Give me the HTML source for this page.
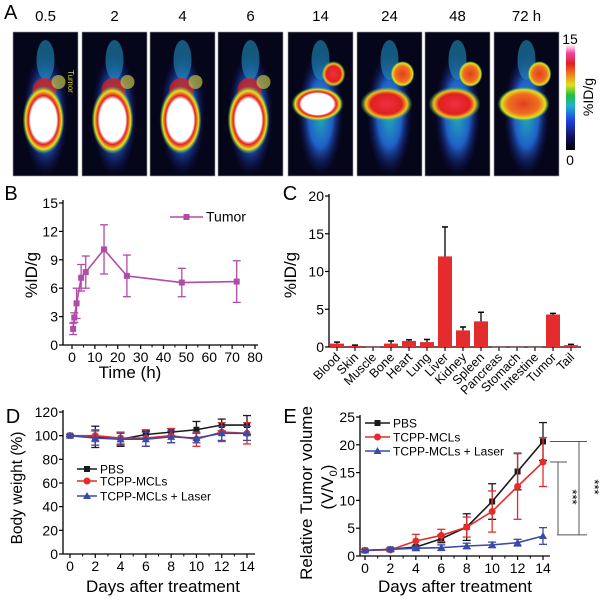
<!DOCTYPE html>
<html><head><meta charset="utf-8"><style>
html,body{margin:0;padding:0;background:#fff;}
svg{display:block;font-family:"Liberation Sans",Arial,sans-serif;}
</style></head><body>
<svg id="fig" width="600" height="600" viewBox="0 0 600 600">
<defs>
<linearGradient id="cbar" x1="0" y1="1" x2="0" y2="0">
<stop offset="0" stop-color="#000"/><stop offset="0.12" stop-color="#10105a"/><stop offset="0.28" stop-color="#2040e0"/><stop offset="0.42" stop-color="#20b0d0"/><stop offset="0.52" stop-color="#20c040"/><stop offset="0.62" stop-color="#e0e020"/><stop offset="0.72" stop-color="#f08020"/><stop offset="0.82" stop-color="#e02020"/><stop offset="0.92" stop-color="#f040a0"/><stop offset="1" stop-color="#fff0f0"/>
</linearGradient>
<radialGradient id="bodyG" cx="0.5" cy="0.5" r="0.5"><stop offset="0" stop-color="#20b0b0"/><stop offset="0.55" stop-color="#2060c8"/><stop offset="1" stop-color="#101060" stop-opacity="0.1"/></radialGradient>
<radialGradient id="hotG" cx="0.5" cy="0.5" r="0.5"><stop offset="0" stop-color="#fff"/><stop offset="0.62" stop-color="#fff"/><stop offset="0.72" stop-color="#e02020"/><stop offset="0.86" stop-color="#f0e020"/><stop offset="1" stop-color="#30c060" stop-opacity="0"/></radialGradient>
<radialGradient id="redG" cx="0.5" cy="0.5" r="0.5"><stop offset="0" stop-color="#f03040"/><stop offset="0.6" stop-color="#e02020"/><stop offset="0.8" stop-color="#f0c020"/><stop offset="1" stop-color="#30c060" stop-opacity="0"/></radialGradient>
<radialGradient id="orG" cx="0.5" cy="0.5" r="0.5"><stop offset="0" stop-color="#e04020"/><stop offset="0.6" stop-color="#f07020"/><stop offset="0.85" stop-color="#e0e020"/><stop offset="1" stop-color="#30c060" stop-opacity="0"/></radialGradient>
</defs>
<g id="panelA"></g>
<g id="panelB"></g>
<g id="panelC"></g>
<g id="panelD"></g>
<g id="panelE"></g>
</svg>
<script>
// ---- data ----
const imgTimes = ["0.5","2","4","6","14","24","48","72 h"];
const bTimes = [0.5,1,2,4,6,14,24,48,72];
const bValues = [1.7,2.9,4.4,7.1,7.7,10.1,7.3,6.6,6.7];
const bErrors = [0.6,0.5,1.6,1.4,1.7,2.6,2.2,1.5,2.2];
const bYTicks = [0,3,6,9,12,15];
const bXTicks = [0,10,20,30,40,50,60,70,80];
const cOrgans = ["Blood","Skin","Muscle","Bone","Heart","Lung","Liver","Kidney","Spleen","Pancreas","Stomach","Intestine","Tumor","Tail"];
const cValues = [0.45,0.15,0.02,0.45,0.8,0.65,12,2.2,3.4,0.02,0.02,0.02,4.3,0.25];
const cErrors = [0.2,0.1,0,0.35,0.15,0.35,3.9,0.45,1.2,0,0,0,0.15,0.1];
const cYTicks = [0,5,10,15,20];
const days = [0,2,4,6,8,10,12,14];
const dPBS = [100,99,97,101,103,105,109,109];
const dPBSErr = [1,9,6,3,3,7,5,8];
const dTCPP = [100,100,98,98,100,97,103,102];
const dTCPPErr = [1,5,5,7,6,6,8,9];
const dLaser = [100,98,97,97,99,98,102,102];
const dLaserErr = [1,6,5,6,5,4,6,6];
const dYTicks = [0,20,40,60,80,100,120];
const ePBS = [1,1.2,1.6,3.1,5.2,9.8,15.2,20.6];
const ePBSErr = [0.2,0.3,0.3,0.7,2.4,3.2,3.3,3.4];
const eTCPP = [1,1.1,2.7,3.7,5.2,8.0,12.5,16.9];
const eTCPPErr = [0.2,0.2,1.2,1.1,1.8,3.7,5.9,4.4];
const eLaser = [1,1.2,1.4,1.5,1.8,2.0,2.4,3.6];
const eLaserErr = [0.2,0.3,0.4,0.5,0.5,0.5,0.6,1.5];
const eYTicks = [0,5,10,15,20,25];

const NS="http://www.w3.org/2000/svg";
function mk(parent,tag,attrs,text){const e=document.createElementNS(NS,tag);for(const k in attrs)e.setAttribute(k,attrs[k]);if(text!==undefined)e.textContent=text;parent.appendChild(e);return e;}
function lin(d0,d1,r0,r1){return v=>r0+(v-d0)*(r1-r0)/(d1-d0);}

// ---- Panel A ----
const A=document.getElementById('panelA');
let t=mk(A,'text',{x:4,y:19,'font-size':20});t.textContent='A';


const imgX=[13,82,150,218,288,357,425,494];
imgTimes.forEach((lab,i)=>{
  const x=imgX[i],w=65,y=32,h=144,cx=x+w/2;
  const g=mk(A,'g',{});
  
  
  mk(g,'rect',{x:x,y:y,width:w,height:h,fill:'#06061a',stroke:'#999','stroke-width':0.6});
  mk(g,'ellipse',{cx:cx,cy:y+82,rx:22,ry:60,fill:'url(#bodyG)'});
  mk(g,'ellipse',{cx:cx,cy:y+28,rx:9,ry:20,fill:'#2090c0',opacity:0.6});
  if(i<4){
    mk(g,'ellipse',{cx:cx-1,cy:y+58,rx:12,ry:12,fill:'#d02020',opacity:0.8});
    mk(g,'ellipse',{cx:cx-2,cy:y+88,rx:21,ry:34,fill:'url(#hotG)'});
    mk(g,'ellipse',{cx:cx+13,cy:y+50,rx:7,ry:7,fill:'#c0c040',opacity:0.7});
  } else {
    const fillL = i==4?'url(#hotG)':(i<7?'url(#redG)':'url(#orG)');
    mk(g,'ellipse',{cx:cx-3,cy:y+72,rx:26,ry:17,fill:fillL});
    mk(g,'ellipse',{cx:cx+13,cy:y+42,rx:12,ry:13,fill:i==4?'url(#redG)':'url(#orG)'});
  }
  let tt=mk(A,'text',{x:cx,y:21,'font-size':15,'text-anchor':'middle'});tt.textContent=lab;
  
  
});
let ol=mk(A,'text',{x:68,y:70,'font-size':8,fill:'#d0d020',transform:'rotate(90 68 70)'});ol.textContent='Tumor';


let cb=mk(A,'rect',{x:566,y:45,width:9,height:105,fill:'url(#cbar)'});


t=mk(A,'text',{x:570,y:44,'font-size':14,'text-anchor':'middle'});t.textContent='15';


t=mk(A,'text',{x:570,y:165,'font-size':14,'text-anchor':'middle'});t.textContent='0';


t=mk(A,'text',{x:593,y:97,'font-size':14,'text-anchor':'middle',transform:'rotate(-90 593 97)'});t.textContent='%ID/g';



// ---- helpers for axes ----
function yAxis(g,x,sy,ticks,y0,y1,fs){
  mk(g,'line',{x1:x,y1:y0,x2:x,y2:y1,stroke:'#000','stroke-width':1.3});
  ticks.forEach(v=>{const y=sy(v);mk(g,'line',{x1:x-4,y1:y,x2:x,y2:y,stroke:'#000','stroke-width':1.2});
    const tl=mk(g,'text',{x:x-5,y:y+5,'font-size':fs,'text-anchor':'end'},String(v));
    
    });
}
function xAxis(g,y,sx,ticks,x0,x1,fs,minor){
  mk(g,'line',{x1:x0,y1:y,x2:x1,y2:y,stroke:'#000','stroke-width':1.3});
  ticks.forEach((v,i)=>{const x=sx(v);mk(g,'line',{x1:x,y1:y,x2:x,y2:y+4,stroke:'#000','stroke-width':1.2});
    if(minor&&i<ticks.length-1){const xm=(x+sx(ticks[i+1]))/2;mk(g,'line',{x1:xm,y1:y,x2:xm,y2:y+2.5,stroke:'#000','stroke-width':1});}
    const tl=mk(g,'text',{x:x,y:y+17,'font-size':fs,'text-anchor':'middle'},String(v));
    
    });
}
function marker(g,type,x,y,c,s){
  if(type==='sq')return mk(g,'rect',{x:x-s,y:y-s,width:2*s,height:2*s,fill:c});
  if(type==='ci')return mk(g,'circle',{cx:x,cy:y,r:s+0.5,fill:c});
  return mk(g,'polygon',{points:`${x},${y-s-1} ${x-s-1},${y+s} ${x+s+1},${y+s}`,fill:c});
}
function series(g,name,xs,ys,es,sx,sy,c,type,s){
  const sg=mk(g,'g',{});
  
  
  mk(sg,'polyline',{points:xs.map((x,i)=>sx(x)+','+sy(ys[i])).join(' '),fill:'none',stroke:c,'stroke-width':1.6});
  xs.forEach((x,i)=>{const px=sx(x),yt=sy(ys[i]+es[i]),yb=sy(ys[i]-es[i]);
    mk(sg,'line',{x1:px,y1:yt,x2:px,y2:yb,stroke:c,'stroke-width':1.3});
    mk(sg,'line',{x1:px-4,y1:yt,x2:px+4,y2:yt,stroke:c,'stroke-width':1.3});
    mk(sg,'line',{x1:px-4,y1:yb,x2:px+4,y2:yb,stroke:c,'stroke-width':1.3});
    const m=marker(sg,type,px,sy(ys[i]),c,s);
    
    });
}
function legendEntry(g,x1,x2,y,c,type,label,fs){
  const lg=mk(g,'g',{});
  
  
  mk(lg,'line',{x1:x1,y1:y,x2:x2,y2:y,stroke:c,'stroke-width':1.6});
  marker(lg,type,(x1+x2)/2,y,c,3);
  mk(lg,'text',{x:x2+3,y:y+4.5,'font-size':fs},label);
}
function label(g,txt,x,y,fs,rot,name){
  const e=mk(g,'text',{x:x,y:y,'font-size':fs,'text-anchor':'middle'},txt);
  if(rot)e.setAttribute('transform',`rotate(-90 ${x} ${y})`);
  
  
  return e;
}

// ---- Panel B ----
const B=document.getElementById('panelB');
label(B,'B',11,200,20,false,'panel-label-b');
{const sx=lin(0,80,72,255),sy=lin(0,15,345,203);
 yAxis(B,63,sy,bYTicks,345,200,14);
 xAxis(B,345,sx,bXTicks,63,258,14,true);
 series(B,'tumor-series',bTimes,bValues,bErrors,sx,sy,'#b04ca8','sq',3);
 legendEntry(B,170,203,217,'#b04ca8','sq','Tumor',14);
 label(B,'Time (h)',130,378,17,false,'x-axis-title');
 label(B,'%ID/g',37,275,17,true,'y-axis-title');}

// ---- Panel C ----
const C=document.getElementById('panelC');
label(C,'C',290,200,20,false,'panel-label-c');
{const sy=lin(0,20,347,196),x0=337,dx=18;
 yAxis(C,329,sy,cYTicks,347,194,14);
 mk(C,'line',{x1:329,y1:347,x2:581,y2:347,stroke:'#000','stroke-width':1.3});
 cOrgans.forEach((o,i)=>{const cx=x0+i*dx;
  mk(C,'line',{x1:cx,y1:347,x2:cx,y2:351,stroke:'#000','stroke-width':1.1});
  const b=mk(C,'rect',{x:cx-7,y:sy(cValues[i]),width:14,height:Math.max(0.5,347-sy(cValues[i])),fill:'#e52c2c'});
  
  
  if(cErrors[i]>0){const yt=sy(cValues[i]+cErrors[i]);
   mk(C,'line',{x1:cx,y1:sy(cValues[i]),x2:cx,y2:yt,stroke:'#000','stroke-width':1.3});
   mk(C,'line',{x1:cx-3,y1:yt,x2:cx+3,y2:yt,stroke:'#000','stroke-width':1.5});}
  const tl=mk(C,'text',{x:cx+4,y:358,'font-size':12.5,'text-anchor':'end',transform:`rotate(-45 ${cx+4} 358)`},o);
  
  });
 label(C,'%ID/g',296,275,17,true,'y-axis-title');}

// ---- Panel D ----
const D=document.getElementById('panelD');
label(D,'D',13,423,20,false,'panel-label-d');
{const sx=lin(0,14,70,247),sy=lin(0,120,554,412);
 yAxis(D,63,sy,dYTicks,554,410,14);
 xAxis(D,554,sx,days,63,255,14,true);
 series(D,'pbs-series',days,dPBS,dPBSErr,sx,sy,'#1a1a1a','sq',3);
 series(D,'tcpp-series',days,dTCPP,dTCPPErr,sx,sy,'#e52c2c','ci',3);
 series(D,'laser-series',days,dLaser,dLaserErr,sx,sy,'#3a4aa8','tr',3);
 legendEntry(D,77,97,469,'#1a1a1a','sq','PBS',12);
 legendEntry(D,77,97,481,'#e52c2c','ci','TCPP-MCLs',12);
 legendEntry(D,77,97,496,'#3a4aa8','tr','TCPP-MCLs + Laser',12);
 label(D,'Days after treatment',163,592,17,false,'x-axis-title');
 label(D,'Body weight (%)',22,488,15.5,true,'y-axis-title');}

// ---- Panel E ----
const E=document.getElementById('panelE');
label(E,'E',290,423,20,false,'panel-label-e');
{const sx=lin(0,14,365,543),sy=lin(0,25,556,417);
 yAxis(E,360,sy,eYTicks,556,415,14);
 xAxis(E,556,sx,days,360,550,14,true);
 series(E,'pbs-series',days,ePBS,ePBSErr,sx,sy,'#1a1a1a','sq',3);
 series(E,'tcpp-series',days,eTCPP,eTCPPErr,sx,sy,'#e52c2c','ci',3);
 series(E,'laser-series',days,eLaser,eLaserErr,sx,sy,'#3a4aa8','tr',3);
 legendEntry(E,365,390,423,'#1a1a1a','sq','PBS',12);
 legendEntry(E,365,390,437,'#e52c2c','ci','TCPP-MCLs',12);
 legendEntry(E,365,390,451,'#3a4aa8','tr','TCPP-MCLs + Laser',12);
 const yP=sy(ePBS[7]),yT=sy(eTCPP[7]),yL=sy(eLaser[7]+0.2);
 const br=mk(E,'g',{stroke:'#555','stroke-width':1});
 
 
 mk(br,'line',{x1:550,y1:yP,x2:587,y2:yP});
 mk(br,'line',{x1:579,y1:yP,x2:579,y2:yL});
 mk(br,'line',{x1:557,y1:yL,x2:587,y2:yL});
 mk(br,'line',{x1:550,y1:yT,x2:567,y2:yT});
 mk(br,'line',{x1:558,y1:yT,x2:558,y2:yL});
 let s1=mk(E,'text',{x:568,y:497,'font-size':13,'text-anchor':'middle',transform:'rotate(90 568 497)'},'***');
 
 
 let s2=mk(E,'text',{x:590,y:487,'font-size':13,'text-anchor':'middle',transform:'rotate(90 590 487)'},'***');
 
 
 label(E,'Days after treatment',455,592,17,false,'x-axis-title');
 label(E,'Relative Tumor volume',312,493,17,true,'y-axis-title');
 const v=mk(E,'text',{x:333,y:487,'font-size':17,'text-anchor':'middle',transform:'rotate(-90 333 487)'});
 
 
 v.innerHTML='(V/V<tspan font-size="11" dy="4">0</tspan><tspan dy="-4">)</tspan>';}
</script>
</body></html>
